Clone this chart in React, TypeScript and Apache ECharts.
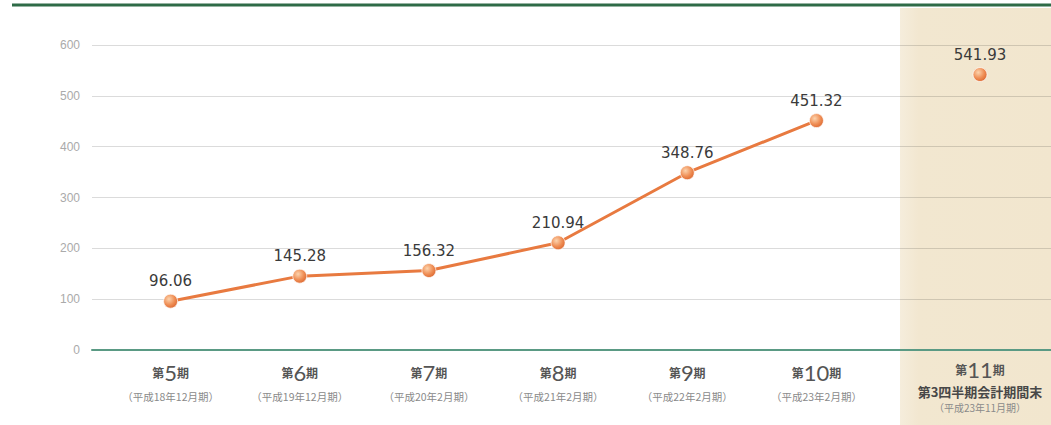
import React, { useEffect, useRef } from "react";
import * as echarts from "echarts";

const periods = ["5", "6", "7", "8", "9", "10"];
const periodNotes = [
  "平成18年12月期",
  "平成19年12月期",
  "平成20年2月期",
  "平成21年2月期",
  "平成22年2月期",
  "平成23年2月期",
];
const values = [96.06, 145.28, 156.32, 210.94, 348.76, 451.32];

const lastPeriod = "11";
const lastPeriodTitle = "第3四半期会計期間末";
const lastPeriodNote = "平成23年11月期";
const lastValue = [541.93];

const yTicks = { min: 0, max: 600, interval: 100 };

export default function App() {
  const ref = useRef<HTMLDivElement>(null);

  useEffect(() => {
    if (!ref.current) return;
    const chart = echarts.init(ref.current, undefined, { renderer: "svg" });

    const ball = () =>
      new echarts.graphic.RadialGradient(0.38, 0.35, 0.75, [
        { offset: 0, color: "#fcd3ad" },
        { offset: 0.55, color: "#ef8e55" },
        { offset: 1, color: "#d9622b" },
      ]);

    const labelText = {
      fontFamily: "DejaVu Sans",
      fontSize: 15,
      color: "#3a3a3a",
    };

    const hiddenY = (idx: number) => ({
      type: "value",
      gridIndex: idx,
      min: yTicks.min,
      max: yTicks.max,
      interval: yTicks.interval,
      show: false,
    });

    chart.setOption({
      animation: false,
      backgroundColor: "#ffffff",
      graphic: [
        {
          type: "rect",
          z: -10,
          shape: { x: 900, y: 8, width: 155, height: 420 },
          style: {
            fill: new echarts.graphic.LinearGradient(0, 0, 1, 0, [
              { offset: 0, color: "#f5eddc" },
              { offset: 0.12, color: "#f2e7d0" },
              { offset: 1, color: "#f2e6ce" },
            ]),
          },
        },
        {
          type: "line",
          z: 10,
          shape: { x1: 12, y1: 5, x2: 1051, y2: 5 },
          style: { stroke: "#2e6b47", lineWidth: 3 },
        },
      ],
      grid: [
        { left: 92, right: 0, top: 45, bottom: 75 },
        { left: 106, width: 775, top: 45, bottom: 75 },
        { left: 915, width: 130, top: 45, bottom: 75 },
      ],
      xAxis: [
        {
          type: "value",
          gridIndex: 0,
          min: 0,
          max: 1,
          axisLine: { show: true, lineStyle: { color: "#5a9a84", width: 2 } },
          axisTick: { show: false },
          axisLabel: { show: false },
          splitLine: { show: false },
        },
        {
          type: "category",
          gridIndex: 1,
          data: periods,
          boundaryGap: true,
          axisLine: { show: false },
          axisTick: { show: false },
          axisLabel: {
            margin: 8,
            interval: 0,
            formatter: (v: string, i: number) =>
              `{a|第}{b|${v}}{a|期}\n{c|（${periodNotes[i]}）}`,
            rich: {
              a: { fontSize: 12, fontWeight: "bold", color: "#555", lineHeight: 28, fontFamily: "Noto Sans CJK JP" },
              b: { fontSize: 22, color: "#555", lineHeight: 28, fontFamily: "Lato" },
              c: { fontSize: 10.5, color: "#8a8a8a", lineHeight: 20, fontFamily: "Noto Sans CJK JP" },
            },
          },
        },
        {
          type: "category",
          gridIndex: 2,
          data: [lastPeriod],
          boundaryGap: true,
          axisLine: { show: false },
          axisTick: { show: false },
          axisLabel: {
            margin: 6,
            interval: 0,
            formatter: (v: string) =>
              `{a|第}{b|${v}}{a|期}\n{d|${lastPeriodTitle}}\n{c|（${lastPeriodNote}）}`,
            rich: {
              a: { fontSize: 12, fontWeight: "bold", color: "#555", lineHeight: 26, fontFamily: "Noto Sans CJK JP" },
              b: { fontSize: 22, color: "#555", lineHeight: 26, fontFamily: "Lato" },
              d: { fontSize: 13, fontWeight: "bold", color: "#484848", lineHeight: 18, fontFamily: "Noto Sans CJK JP" },
              c: { fontSize: 10, color: "#8a8a8a", lineHeight: 15, fontFamily: "Noto Sans CJK JP" },
            },
          },
        },
      ],
      yAxis: [
        {
          type: "value",
          gridIndex: 0,
          min: yTicks.min,
          max: yTicks.max,
          interval: yTicks.interval,
          axisLine: { show: false },
          axisTick: { show: false },
          axisLabel: { color: "#aaaaaa", fontSize: 12, margin: 12, fontFamily: "Liberation Sans" },
          splitLine: { show: true, lineStyle: { color: "rgba(0,0,0,0.14)", width: 1 } },
        },
        hiddenY(1),
        hiddenY(2),
      ],
      series: [
        {
          type: "line",
          xAxisIndex: 1,
          yAxisIndex: 1,
          data: values,
          symbol: "circle",
          symbolSize: 14,
          lineStyle: { color: "#e87a40", width: 3 },
          itemStyle: { color: ball(), borderColor: "rgba(255,255,255,0.7)", borderWidth: 1 },
          label: {
            show: true,
            position: "top",
            distance: 5,
            formatter: (p: any) => p.value.toFixed(2),
            ...labelText,
          },
          z: 3,
        },
        {
          type: "line",
          xAxisIndex: 2,
          yAxisIndex: 2,
          data: lastValue,
          symbol: "circle",
          symbolSize: 14,
          showSymbol: true,
          lineStyle: { width: 0 },
          itemStyle: { color: ball(), borderColor: "rgba(255,255,255,0.7)", borderWidth: 1 },
          label: {
            show: true,
            position: "top",
            distance: 5,
            formatter: (p: any) => (Array.isArray(p.value) ? p.value[1] : p.value).toFixed(2),
            ...labelText,
          },
          z: 3,
        },
      ],
    });

    return () => chart.dispose();
  }, []);

  return (
    <div
      ref={ref}
      style={{ position: "absolute", left: 0, top: 0, width: 1051, height: 425 }}
    />
  );
}
